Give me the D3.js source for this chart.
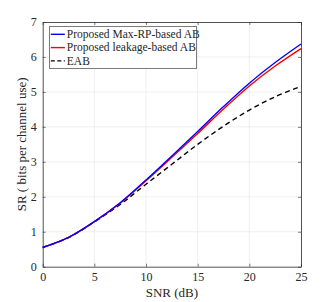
<!DOCTYPE html>
<html lang="en">
<head>
<meta charset="UTF-8">
<script src="https://d3js.org/d3.v7.min.js"></script>
<style>
  body { margin: 0; background: #fff; }
  svg text { font-family: "Liberation Serif", "Times New Roman", serif; fill: #262626; }
</style>
</head>
<body>
<svg id="plot"></svg>
<script>
const snr = [0, 2.5, 5, 7.5, 10, 12.5, 15, 17.5, 20, 22.5, 25];
const maxRP = [0.55, 0.84, 1.29, 1.83, 2.48, 3.17, 3.87, 4.58, 5.25, 5.84, 6.37];
const leakage = [0.55, 0.84, 1.29, 1.82, 2.46, 3.13, 3.81, 4.51, 5.17, 5.74, 6.24];
const eab = [0.55, 0.83, 1.28, 1.78, 2.36, 2.93, 3.50, 4.02, 4.48, 4.86, 5.16];
const xTicks = [0, 5, 10, 15, 20, 25];
const yTicks = [0, 1, 2, 3, 4, 5, 6, 7];
const series = [
  {name: "Proposed Max-RP-based AB", values: maxRP, color: "#0000ff", dash: null},
  {name: "Proposed leakage-based AB", values: leakage, color: "#ff0000", dash: null},
  {name: "EAB", values: eab, color: "#000000", dash: "5,3.5"}
];

const width = 332, height = 302;
const margin = {top: 22, right: 31, bottom: 35.3, left: 42.7};
const serif = "Liberation Serif";
const svg = d3.select("#plot").attr("width", width).attr("height", height);

const x = d3.scaleLinear().domain([0, 25]).range([margin.left, width - margin.right]);
const y = d3.scaleLinear().domain([0, 7]).range([height - margin.bottom, margin.top]);

// grid
svg.append("g").selectAll("line").data(xTicks.slice(1, -1)).join("line")
  .attr("x1", d => x(d)).attr("x2", d => x(d))
  .attr("y1", y(0)).attr("y2", y(7))
  .attr("stroke", "#e6e6e6").attr("stroke-width", 0.6);
svg.append("g").selectAll("line").data(yTicks.slice(1, -1)).join("line")
  .attr("x1", x(0)).attr("x2", x(25))
  .attr("y1", d => y(d)).attr("y2", d => y(d))
  .attr("stroke", "#e6e6e6").attr("stroke-width", 0.6);

// axes
const tk = 3;
const fmt = d3.format("d");
const xAxis = d3.axisBottom(x).tickValues(xTicks).tickFormat(fmt).tickSize(-tk).tickSizeOuter(0).tickPadding(6);
const xAxisTop = d3.axisTop(x).tickValues(xTicks).tickSize(-tk).tickSizeOuter(0).tickFormat("");
const yAxis = d3.axisLeft(y).tickValues(yTicks).tickFormat(fmt).tickSize(-tk).tickSizeOuter(0).tickPadding(6);
const yAxisRight = d3.axisRight(y).tickValues(yTicks).tickSize(-tk).tickSizeOuter(0).tickFormat("");

function style(g) {
  g.attr("font-family", serif).attr("font-size", 12);
  g.select(".domain").attr("stroke", "#262626").attr("stroke-width", 0.8);
  g.selectAll(".tick line").attr("stroke", "#262626").attr("stroke-width", 0.6);
  g.selectAll(".tick text").attr("fill", "#262626");
}
svg.append("g").attr("transform", `translate(0,${y(0)})`).call(xAxis).call(style);
svg.append("g").attr("transform", `translate(0,${y(7)})`).call(xAxisTop).call(style);
svg.append("g").attr("transform", `translate(${x(0)},0)`).call(yAxis).call(style);
svg.append("g").attr("transform", `translate(${x(25)},0)`).call(yAxisRight).call(style);

// lines
const line = d3.line().x((d, i) => x(snr[i])).y(d => y(d)).curve(d3.curveCatmullRom);
series.slice().reverse().forEach(s => {
  svg.append("path").attr("d", line(s.values))
    .attr("fill", "none").attr("stroke", s.color).attr("stroke-width", 1.4)
    .attr("stroke-dasharray", s.dash);
});

// labels
svg.append("text").attr("x", (x(0) + x(25)) / 2).attr("y", 297)
  .attr("text-anchor", "middle").attr("font-family", serif).attr("font-size", 13).text("SNR (dB)");
svg.append("text").attr("transform", `translate(26,${(y(0) + y(7)) / 2}) rotate(-90)`)
  .attr("text-anchor", "middle").attr("font-family", serif).attr("font-size", 13).text("SR ( bits per channel use)");

// legend
const lg = svg.append("g").attr("transform", "translate(49.3,26.7)");
lg.append("rect").attr("width", 147.4).attr("height", 41.6)
  .attr("fill", "#fff").attr("stroke", "#262626").attr("stroke-width", 0.6);
series.forEach((s, i) => {
  const ly = 7.6 + i * 13.3;
  lg.append("line").attr("x1", 1.5).attr("x2", 15.5).attr("y1", ly).attr("y2", ly)
    .attr("stroke", s.color).attr("stroke-width", 1.4).attr("stroke-dasharray", s.dash ? "4,2.5" : null);
  lg.append("text").attr("x", 17.5).attr("y", ly + 3.8)
    .attr("font-family", serif).attr("font-size", 11.5).text(s.name);
});
</script>
</body>
</html>
